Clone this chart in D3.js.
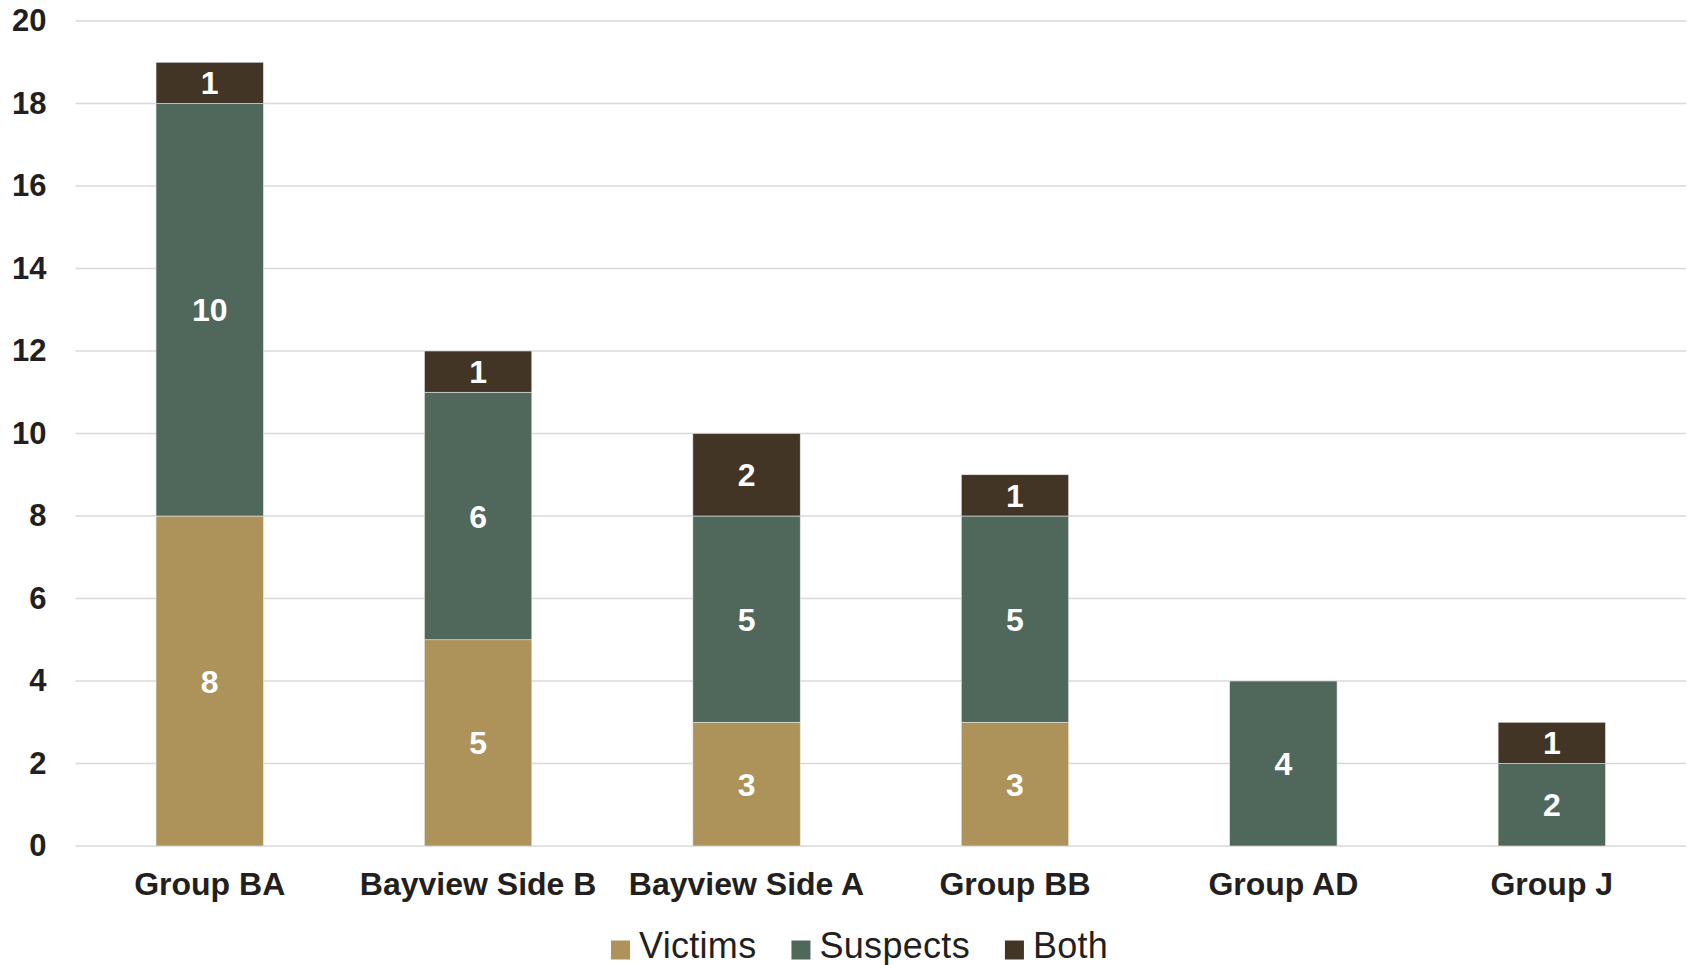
<!DOCTYPE html>
<html>
<head>
<meta charset="utf-8">
<script src="https://cdn.jsdelivr.net/npm/d3@7"></script>
<style>
  body { margin: 0; background: #fff; }
  svg { display: block; font-family: "Liberation Sans", Arial, sans-serif; }
</style>
</head>
<body>
<script>
// Chart data
const groups = ["Group BA", "Bayview Side B", "Bayview Side A", "Group BB", "Group AD", "Group J"];
const victims = [8, 5, 3, 3, 0, 0];
const suspects = [10, 6, 5, 5, 4, 2];
const both = [1, 1, 2, 1, 0, 1];
const seriesNames = ["Victims", "Suspects", "Both"];
const yTicks = [0, 2, 4, 6, 8, 10, 12, 14, 16, 18, 20];

const colors = {
    Victims: "#ad925a",
    Suspects: "#50675c",
    Both: "#433526"
};
const textColor = "#231f20";

const width = 1687,
    height = 965;

const margin = {top: 21, right: 1, bottom: 119, left: 75.5};

const svg = d3.select("body").append("svg")
    .attr("width", width)
    .attr("height", height);

const x = d3.scaleBand()
    .domain(groups)
    .range([margin.left, width - margin.right])
    .paddingInner(0.6)
    .paddingOuter(0.3);

const y = d3.scaleLinear()
    .domain([0, 20])
    .range([height - margin.bottom, margin.top]);

// table for stacking
const table = groups.map((g, i) => ({
    group: g, Victims: victims[i], Suspects: suspects[i], Both: both[i]
}));
const stacked = d3.stack().keys(seriesNames)(table);

// grid lines
svg.append("g")
    .selectAll("line")
    .data(yTicks)
    .join("line")
    .attr("x1", margin.left)
    .attr("x2", width - margin.right)
    .attr("y1", d => y(d))
    .attr("y2", d => y(d))
    .attr("stroke", "#d9d9d9")
    .attr("stroke-width", 1.5);

// y axis labels
const yAxis = svg.append("g")
    .attr("transform", `translate(${margin.left - 29},0)`)
    .call(d3.axisLeft(y).tickValues(yTicks).tickSize(0).tickPadding(0));
yAxis.select(".domain").remove();
yAxis.selectAll("text")
    .attr("fill", textColor)
    .style("font-size", "31px")
    .style("font-weight", "bold")
    .style("font-family", "'Liberation Sans', Arial, sans-serif");

// x axis labels
const xAxis = svg.append("g")
    .attr("transform", `translate(0,${y(0)})`)
    .call(d3.axisBottom(x).tickSize(0).tickPadding(26));
xAxis.select(".domain").remove();
xAxis.selectAll("text")
    .attr("fill", textColor)
    .style("font-size", "32px")
    .style("font-weight", "bold")
    .style("font-family", "'Liberation Sans', Arial, sans-serif");

// stacked bars
const layers = svg.append("g")
    .selectAll("g")
    .data(stacked)
    .join("g")
    .attr("fill", d => colors[d.key]);

layers.selectAll("rect")
    .data(d => d.filter(s => s[1] - s[0] > 0))
    .join("rect")
    .attr("x", d => x(d.data.group))
    .attr("y", d => y(d[1]))
    .attr("width", x.bandwidth())
    .attr("height", d => y(d[0]) - y(d[1]))
    .attr("stroke", "#e6e6e6")
    .attr("stroke-width", 0.6);

// value labels
layers.selectAll("text")
    .data(d => d.filter(s => s[1] - s[0] > 0))
    .join("text")
    .attr("x", d => x(d.data.group) + x.bandwidth() / 2)
    .attr("y", d => (y(d[0]) + y(d[1])) / 2)
    .attr("dy", "0.36em")
    .attr("text-anchor", "middle")
    .attr("fill", "#fff")
    .style("font-size", "32px")
    .style("font-weight", "bold")
    .text(d => d[1] - d[0]);

// legend
const legend = svg.append("g")
    .attr("transform", "translate(611,950)");

let lx = 0;
seriesNames.forEach(name => {
    const item = legend.append("g").attr("transform", `translate(${lx},0)`);
    item.append("rect")
        .attr("x", 0)
        .attr("y", -9.5)
        .attr("width", 19)
        .attr("height", 19)
        .attr("fill", colors[name]);
    const t = item.append("text")
        .attr("x", 28)
        .attr("y", 8)
        .attr("fill", textColor)
        .style("font-size", "36px")
        .style("letter-spacing", "0.3px")
        .text(name);
    lx += 28 + t.node().getComputedTextLength() + 35;
});
</script>
</body>
</html>
